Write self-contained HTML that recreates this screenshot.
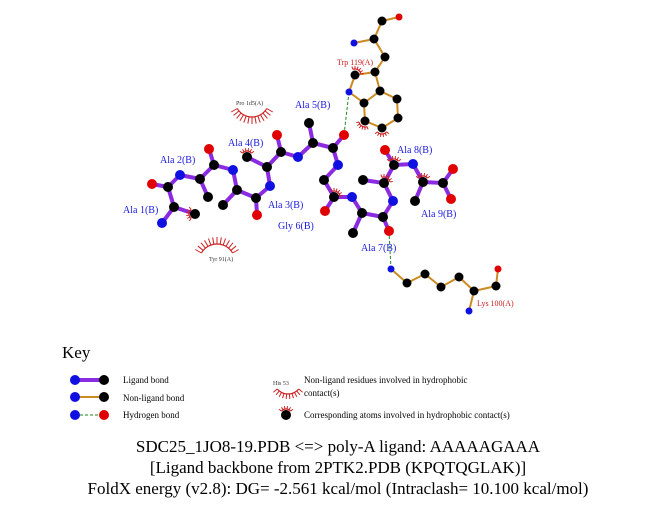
<!DOCTYPE html>
<html><head><meta charset="utf-8"><style>
html,body{margin:0;padding:0;background:#fff;}
svg{display:block;font-family:"Liberation Serif",serif;}
</style></head><body>
<svg id="s" width="651" height="511" viewBox="0 0 651 511" xmlns="http://www.w3.org/2000/svg">
<g id="bonds"></g><g id="hb"></g><g id="atoms"></g>
<g font-size="10" fill="#1a1adf">
<text x="295" y="108">Ala 5(B)</text>
<text x="228" y="146">Ala 4(B)</text>
<text x="160" y="163">Ala 2(B)</text>
<text x="123" y="213">Ala 1(B)</text>
<text x="268" y="208">Ala 3(B)</text>
<text x="278" y="229">Gly 6(B)</text>
<text x="361" y="251">Ala 7(B)</text>
<text x="397" y="153">Ala 8(B)</text>
<text x="421" y="217">Ala 9(B)</text>
</g>
<g fill="#cc2222">
<text x="337" y="65" font-size="8">Trp 119(A)</text>
<text x="477" y="306" font-size="8">Lys 100(A)</text>
<text x="236" y="105" font-size="6" fill="#333">Pro 1d5(A)</text>
<text x="209" y="261" font-size="6" fill="#333">Tyr 91(A)</text>
<text x="273" y="385" font-size="6" fill="#333">His 53</text>
</g>
<g id="arcs"></g>
<text x="62" y="358" font-size="17">Key</text>
<g font-size="9" fill="#000">
<text x="123" y="383">Ligand bond</text>
<text x="123" y="401">Non-ligand bond</text>
<text x="123" y="418">Hydrogen bond</text>
<text x="304" y="383">Non-ligand residues involved in hydrophobic</text>
<text x="304" y="396">contact(s)</text>
<text x="304" y="418">Corresponding atoms involved in hydrophobic contact(s)</text>
</g>
<g font-size="17" text-anchor="middle" fill="#000">
<text x="338" y="452">SDC25_1JO8-19.PDB &lt;=&gt; poly-A ligand: AAAAAGAAA</text>
<text x="338" y="473">[Ligand backbone from 2PTK2.PDB (KPQTQGLAK)]</text>
<text x="338" y="494">FoldX energy (v2.8): DG= -2.561 kcal/mol (Intraclash= 10.100 kcal/mol)</text>
</g>
</svg>
<script>
var NS="http://www.w3.org/2000/svg";
function el(p,t,a){var e=document.createElementNS(NS,t);for(var k in a)e.setAttribute(k,a[k]);document.getElementById(p).appendChild(e);return e;}
var C={b:"#000",n:"#1010e0",o:"#e00000"};
var A={
a1N:[162,223,'n'],a1A:[174,207,'b'],a1C:[168,187,'b'],a1O:[152,184,'o'],a1B:[195,214,'b'],
a2N:[180,175,'n'],a2A:[200,179,'b'],a2C:[214,165,'b'],a2O:[209,149,'o'],a2B:[208,197,'b'],
a3N:[233,170,'n'],a3A:[237,190,'b'],a3C:[256,198,'b'],a3O:[257,215,'o'],a3B:[223,205,'b'],
a4N:[270,186,'n'],a4A:[267,167,'b'],a4C:[281,152,'b'],a4O:[277,135,'o'],a4B:[247,157,'b'],
a5N:[298,157,'n'],a5A:[313,143,'b'],a5C:[333,148,'b'],a5O:[344,135,'o'],a5B:[309,123,'b'],
a6N:[338,165,'n'],a6A:[324,180,'b'],a6C:[334,197,'b'],a6O:[325,211,'o'],
a7N:[352,197,'n'],a7A:[362,213,'b'],a7C:[383,217,'b'],a7O:[389,231,'o'],a7B:[353,233,'b'],
a8N:[393,201,'n'],a8A:[384,183,'b'],a8C:[394,165,'b'],a8O:[385,150,'o'],a8B:[363,180,'b'],
a9N:[413,164,'n'],a9A:[423,182,'b'],a9C:[443,183,'b'],a9O:[453,169,'o'],a9P:[451,199,'o'],a9B:[415,201,'b'],
tN:[354,43,'n'],tA:[374,39,'b'],tC:[382,21,'b'],tO:[399,17,'o'],tB:[385,57,'b'],tG:[375,72,'b'],tD1:[355,75,'b'],tNE:[349,92,'n'],tE2:[364,103,'b'],tD2:[380,91,'b'],tE3:[397,99,'b'],tZ3:[398,118,'b'],tH2:[382,128,'b'],tZ2:[365,121,'b'],
kNZ:[391,269,'n'],kE:[407,283,'b'],kD:[425,274,'b'],kG:[441,287,'b'],kB:[459,277,'b'],kA:[474,291,'b'],kC:[496,286,'b'],kO:[498,269,'o'],kN:[469,311,'n']
};
var L=[];
for(var i=1;i<=9;i++){var p='a'+i;L.push([p+'N',p+'A'],[p+'A',p+'C'],[p+'C',p+'O']);if(A[p+'B'])L.push([p+'A',p+'B']);if(i<9)L.push([p+'C','a'+(i+1)+'N']);}
L.push(['a9C','a9P']);
var NL=[['tN','tA'],['tA','tC'],['tC','tO'],['tA','tB'],['tB','tG'],['tG','tD1'],['tD1','tNE'],['tNE','tE2'],['tE2','tD2'],['tD2','tG'],['tD2','tE3'],['tE3','tZ3'],['tZ3','tH2'],['tH2','tZ2'],['tZ2','tE2'],
['kNZ','kE'],['kE','kD'],['kD','kG'],['kG','kB'],['kB','kA'],['kA','kC'],['kC','kO'],['kA','kN']];
L.forEach(function(b){var a=A[b[0]],c=A[b[1]];el('bonds','line',{x1:a[0],y1:a[1],x2:c[0],y2:c[1],stroke:'#8a2be2','stroke-width':4});});
NL.forEach(function(b){var a=A[b[0]],c=A[b[1]];el('bonds','line',{x1:a[0],y1:a[1],x2:c[0],y2:c[1],stroke:'#cc8a22','stroke-width':2});});
[['tNE','a5O'],['a7O','kNZ']].forEach(function(b){var a=A[b[0]],c=A[b[1]];el('hb','line',{x1:a[0],y1:a[1],x2:c[0],y2:c[1],stroke:'#1a8a1a','stroke-width':1,'stroke-dasharray':'3,2'});});
for(var k in A){var a=A[k];var sm=k[0]!='a';el('atoms','circle',{cx:a[0],cy:a[1],r:sm?(a[2]=='b'?4.5:3.5):5,fill:C[a[2]]});}
function arc(cx,cy,r,a0,a1,n,len){for(var i=0;i<=n;i++){var t=(a0+(a1-a0)*i/n)*Math.PI/180;var c=Math.cos(t),s=Math.sin(t);el('arcs','line',{x1:cx+r*c,y1:cy+r*s,x2:cx+(r+len)*c,y2:cy+(r+len)*s,stroke:'#cc2222','stroke-width':1});}
el('arcs','path',{d:'M'+(cx+r*Math.cos(a0*Math.PI/180))+' '+(cy+r*Math.sin(a0*Math.PI/180))+' A'+r+' '+r+' 0 0 '+(a1>a0?1:0)+' '+(cx+r*Math.cos(a1*Math.PI/180))+' '+(cy+r*Math.sin(a1*Math.PI/180)),fill:'none',stroke:'#cc2222','stroke-width':1.2});}
arc(252,100,17,30,150,12,7);
arc(217,262,18,-30,-150,12,7);
arc(288,380,14,40,140,9,5);
// small contact marks
[['a1B',180],['a4B',270],['a6C',300],['a8C',270],['a9A',270],['a8A',300],['tD1',300],['tH2',90],['tZ2',120]].forEach(function(m){var a=A[m[0]];var c=m[1];arc(a[0],a[1],6,c-50,c+50,5,3);});
// key
function kb(y,col,c2,h){if(h){el('atoms','line',{x1:75,y1:y,x2:104,y2:y,stroke:'#1a8a1a','stroke-dasharray':'3,2'});}else el('atoms','line',{x1:75,y1:y,x2:104,y2:y,stroke:col,'stroke-width':col=='#8a2be2'?4:2});el('atoms','circle',{cx:75,cy:y,r:5,fill:'#1010e0'});el('atoms','circle',{cx:104,cy:y,r:5,fill:c2});}
kb(380,'#8a2be2','#000');kb(397,'#cc8a22','#000');kb(415,'',"#e00000",1);
el('atoms','circle',{cx:286,cy:415,r:5,fill:'#000'});arc(286,415,6,220,320,5,3);
</script>
</body></html>
